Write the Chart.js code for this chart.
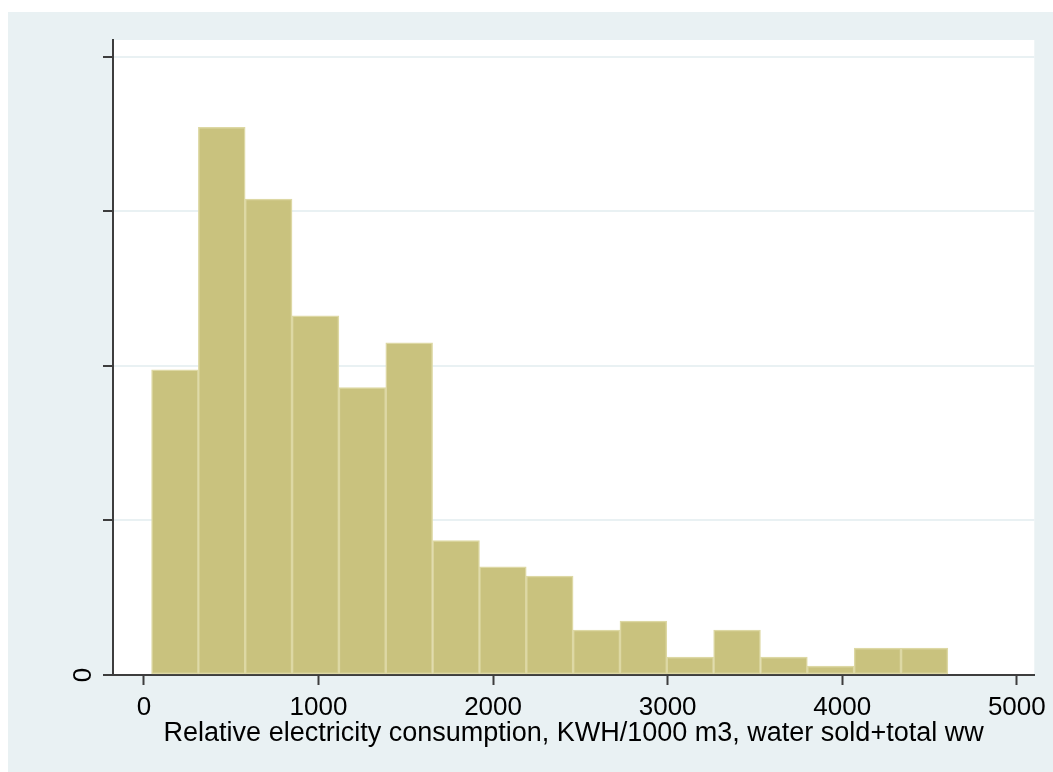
<!DOCTYPE html>
<meta charset="UTF-8">
<title>Relative electricity consumption histogram</title>
<script src="https://cdn.jsdelivr.net/npm/chart.js"></script>

<style>
    html, body { margin: 0; padding: 0; background: #ffffff; overflow: hidden; }
    #histContainer { width: 1053px; height: 772px; }
    #histChart { display: block; }
</style>

<div id="histContainer">
    <canvas id="histChart" width="1053" height="772"></canvas>
</div>

<script>
    // bin edges (KWH/1000 m3) and density of each bin
    const binEdges = [44, 312, 580, 849, 1117, 1385, 1654, 1922, 2190, 2459, 2727, 2995, 3263, 3532, 3800, 4068, 4337, 4605];
    const densities = [0.000395, 0.000709, 0.000616, 0.000465, 0.000372, 0.000430, 0.000174, 0.000140, 0.000128,
                       0.0000581, 0.0000698, 0.0000233, 0.0000581, 0.0000233, 0.0000116, 0.0000349, 0.0000349];

    // axis ticks
    const xTicks = [0, 1000, 2000, 3000, 4000, 5000];
    const yTicks = [0, 0.0002, 0.0004, 0.0006, 0.0008];
    const yTickLabels = ['0', '', '', '', ''];
    const xTitle = 'Relative electricity consumption, KWH/1000 m3, water sold+total ww';

    const panelColor = '#e9f1f3';
    const axisColor = '#3d3d3d';
    const fontFamily = '"Liberation Sans", Arial, sans-serif';

    // one bar per bin, centred between its edges
    const barData = densities.map((d, i) => ({ x: (binEdges[i] + binEdges[i + 1]) / 2, y: d }));

    // Stata style background: light panel, white plot region
    const panelPlugin = {
        id: 'panel',
        beforeDraw(chart) {
            const ctx = chart.ctx;
            const a = chart.chartArea;
            ctx.save();
            ctx.fillStyle = '#ffffff';
            ctx.fillRect(0, 0, chart.width, chart.height);
            ctx.fillStyle = panelColor;
            ctx.fillRect(8, 12, chart.width - 8, chart.height - 12);
            ctx.fillStyle = '#ffffff';
            ctx.fillRect(a.left, a.top, a.right - a.left, a.bottom - a.top);
            ctx.restore();
        },
        afterDraw(chart) {
            // y labels are vertical in the original
            const ctx = chart.ctx;
            const y = chart.scales.y;
            ctx.save();
            ctx.fillStyle = '#000000';
            ctx.font = '26px ' + fontFamily;
            ctx.textAlign = 'center';
            ctx.textBaseline = 'middle';
            yTicks.forEach((v, i) => {
                if (!yTickLabels[i]) return;
                ctx.save();
                ctx.translate(84, y.getPixelForValue(v));
                ctx.rotate(-Math.PI / 2);
                ctx.fillText(yTickLabels[i], 0, 0);
                ctx.restore();
            });
            ctx.restore();
        }
    };

    const ctx = document.getElementById('histChart').getContext('2d');
    const histChart = new Chart(ctx, {
        type: 'bar',
        data: {
            datasets: [{
                data: barData,
                backgroundColor: '#c9c27e',
                borderColor: '#ddd8a4',
                borderWidth: 1.5,
                borderSkipped: false,
                barPercentage: 1,
                categoryPercentage: 1
            }]
        },
        options: {
            responsive: false,
            maintainAspectRatio: false,
            animation: false,
            devicePixelRatio: 1,
            layout: { padding: { top: 40, right: 14, left: 0, bottom: 0 } },
            plugins: {
                legend: { display: false },
                tooltip: { enabled: false }
            },
            scales: {
                x: {
                    type: 'linear',
                    min: -177,
                    max: 5100,
                    offset: false,
                    afterFit: s => { s.height = 97; },
                    afterBuildTicks: s => { s.ticks = xTicks.map(v => ({ value: v })); },
                    grid: {
                        offset: false,
                        drawOnChartArea: false,
                        tickLength: 10,
                        tickColor: axisColor,
                        tickWidth: 2
                    },
                    border: { display: true, color: axisColor, width: 2 },
                    ticks: {
                        color: '#000000',
                        padding: 7,
                        maxRotation: 0,
                        font: { family: fontFamily, size: 26 },
                        callback: v => String(v)
                    },
                    title: {
                        display: true,
                        text: xTitle,
                        color: '#000000',
                        font: { family: fontFamily, size: 27 },
                        padding: { top: 0, bottom: 22 }
                    }
                },
                y: {
                    min: 0,
                    max: 0.000822,
                    afterFit: s => { s.width = 113; },
                    afterBuildTicks: s => { s.ticks = yTicks.map(v => ({ value: v })); },
                    grid: {
                        color: panelColor,
                        lineWidth: 2,
                        tickLength: 10,
                        tickColor: axisColor,
                        tickWidth: 2
                    },
                    border: { display: true, color: axisColor, width: 2 },
                    ticks: { display: false }
                }
            }
        },
        plugins: [panelPlugin]
    });
</script>
